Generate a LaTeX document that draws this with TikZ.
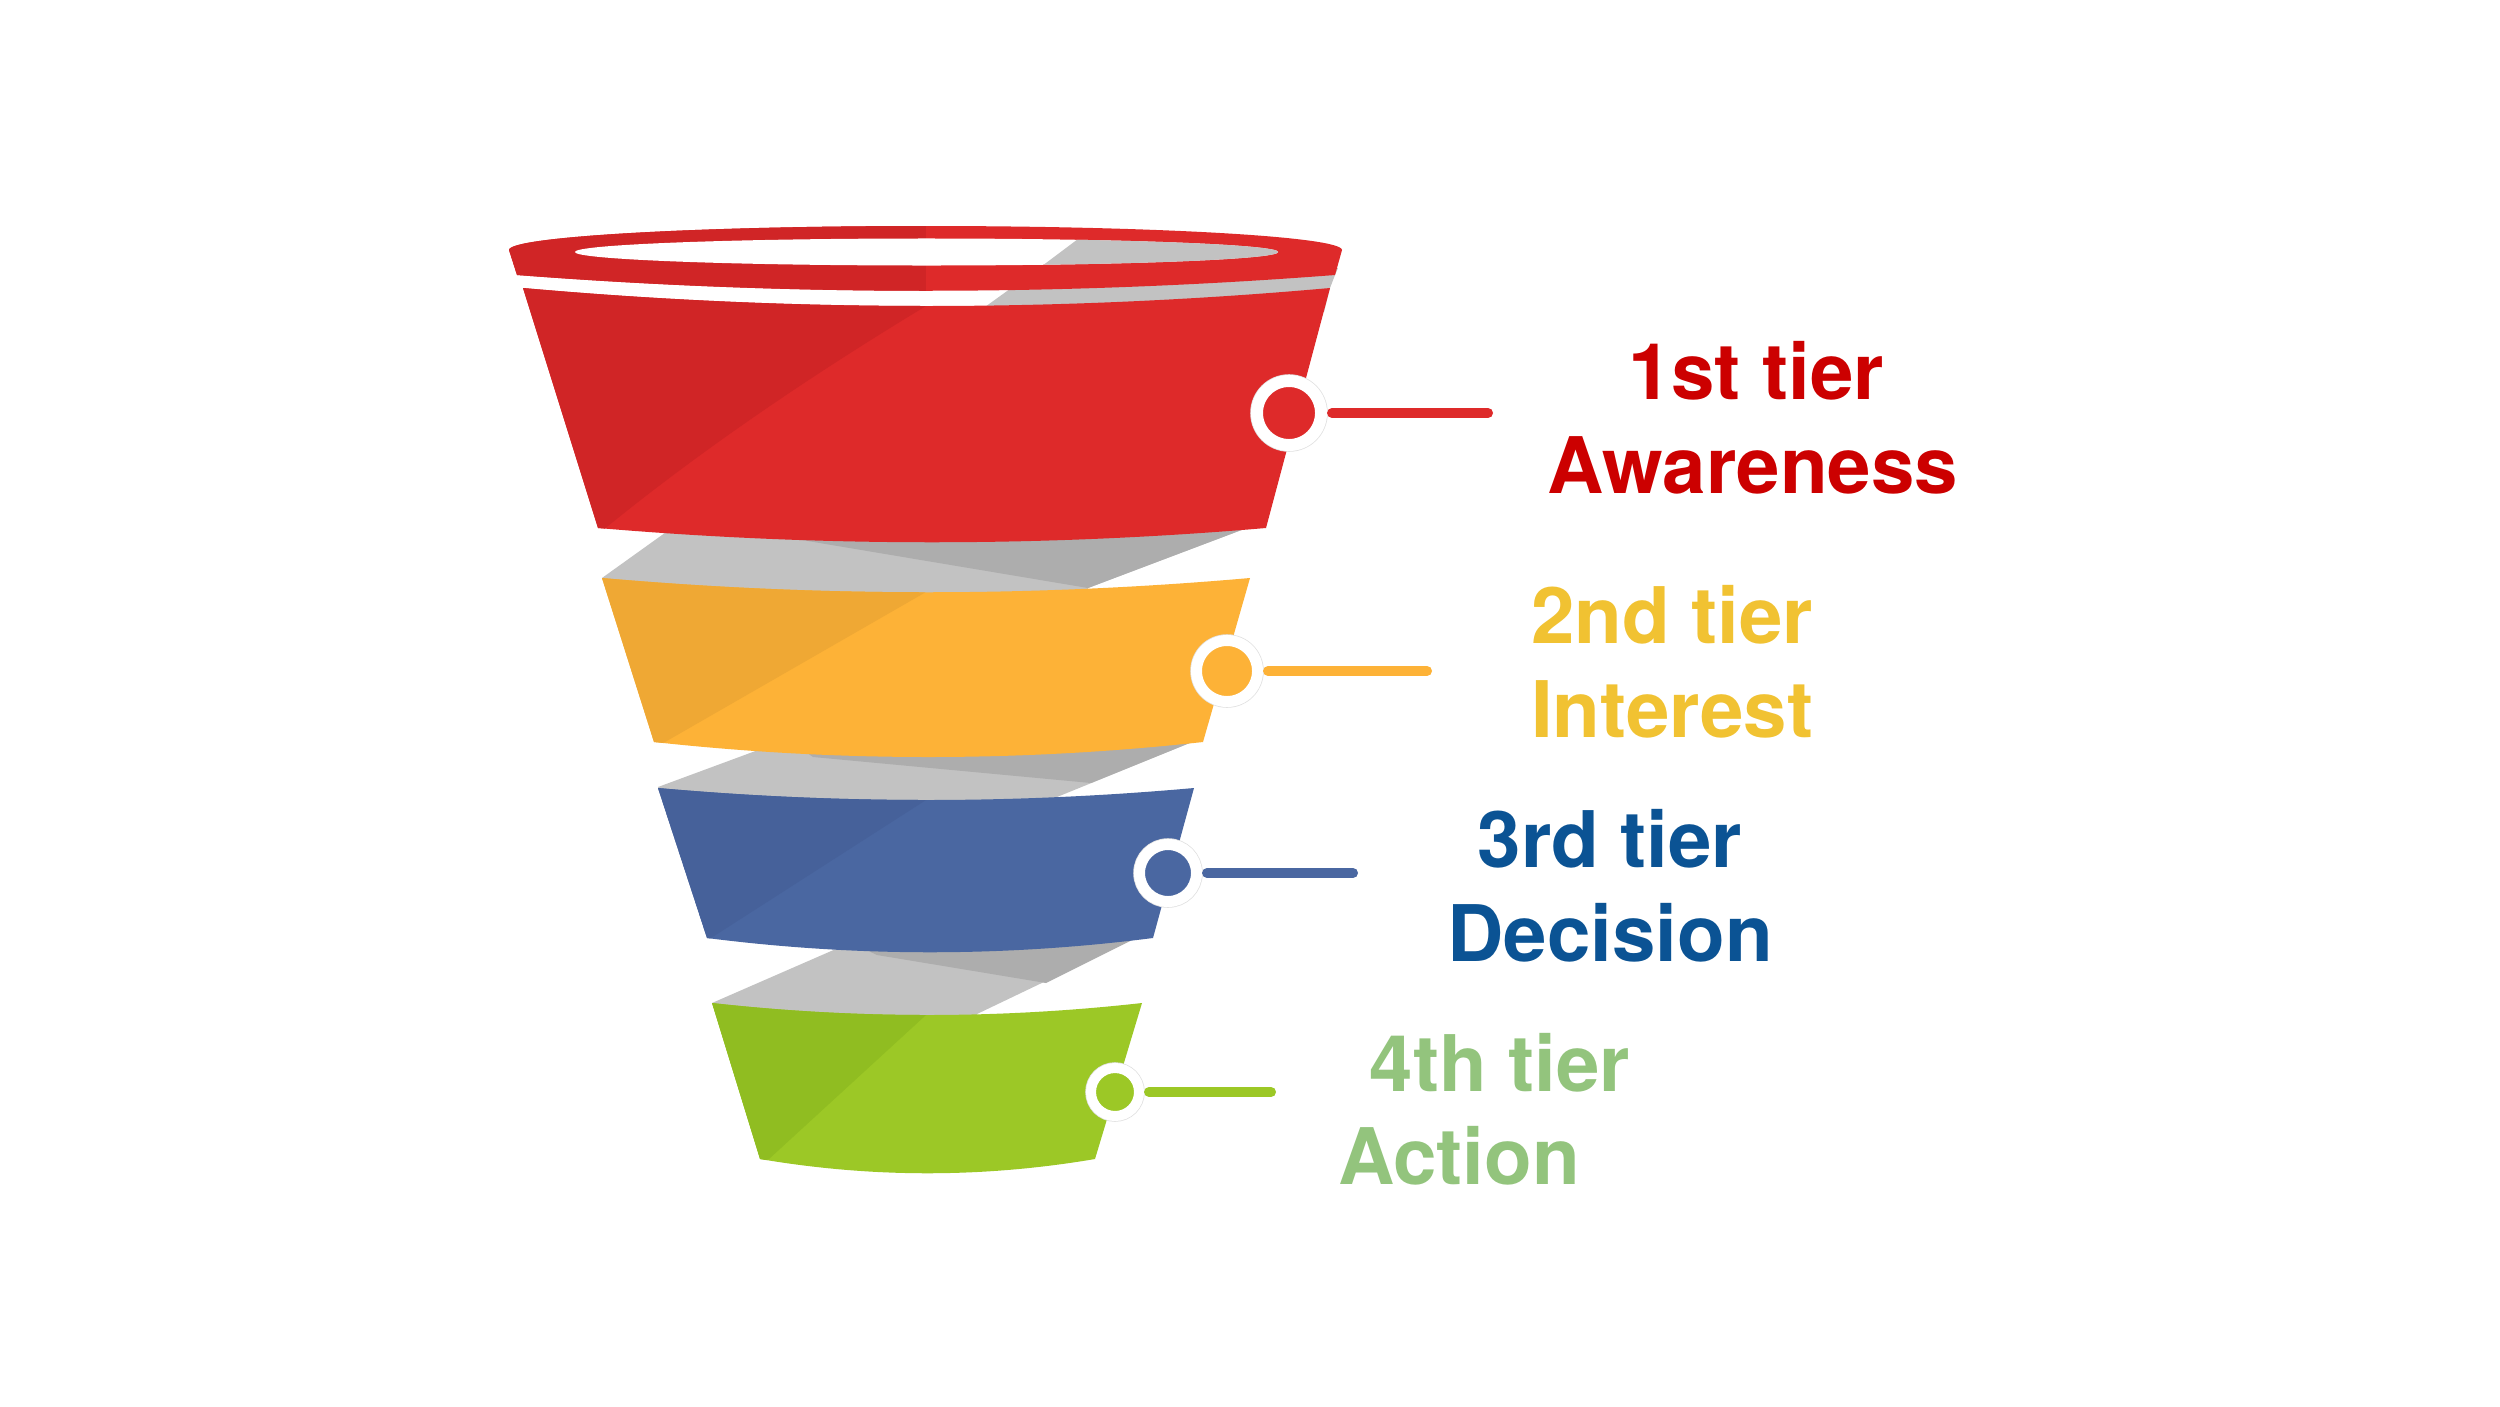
\documentclass[tikz,border=0pt]{standalone}
\usepackage{fontspec}
\setmainfont{TeX Gyre Heros}
\definecolor{redM}{HTML}{DE2A2A}
\definecolor{redD}{HTML}{D02526}
\definecolor{yelM}{HTML}{FDB237}
\definecolor{yelD}{HTML}{EFA834}
\definecolor{bluM}{HTML}{4A67A1}
\definecolor{bluD}{HTML}{46619A}
\definecolor{grnM}{HTML}{9CC826}
\definecolor{grnD}{HTML}{90BD21}
\definecolor{grayL}{HTML}{C2C2C2}
\definecolor{grayD}{HTML}{ADADAD}
\definecolor{txtR}{HTML}{CC0000}
\definecolor{txtY}{HTML}{F1C232}
\definecolor{txtB}{HTML}{0B5394}
\definecolor{txtG}{HTML}{93C47D}
\tikzset{
  lbl/.style={font=\fontsize{22.2}{26}\selectfont\bfseries, anchor=base, inner sep=0pt},
  tdot/.style={circle, inner sep=0pt, draw=white},
  conn/.style={line width=0.1cm, line cap=round}
}
\begin{document}
\begin{tikzpicture}[x=0.01cm, y=-0.01cm]
\fill[white] (0,0) rectangle (2500,1406);
\useasboundingbox (0,0) rectangle (2500,1406);

% grey inner ribbons
\fill[grayL] (676,525) -- (1260,523) -- (1088,588) -- (1085,600) -- (612,600) -- (602,578) -- cycle;
\fill[grayD] (742,530) -- (1260,523) -- (1088,588) -- cycle;
\fill[grayL] (769,746) -- (1197,740) -- (1057,797) -- (1054,810) -- (668,810) -- (658,787) -- cycle;
\fill[grayD] (800,748) -- (1197,740) -- (1091,783) -- (813,757) -- cycle;
\fill[grayL] (845,945) -- (1140,936) -- (977,1014) -- (974,1025) -- (721,1025) -- (712,1003) -- cycle;
\fill[grayD] (860,947) -- (1140,936) -- (1046,983) -- (877,955) -- cycle;
\fill[grayL] (1039,268) -- (1338,268) -- (1335,275) -- (1330,288) -- (1324,312) -- (978,312) -- cycle;

% red body
\fill[redM] (523,288) .. controls (792,312) and (1061,312) .. (1330,288) -- (1266,528) .. controls (1043,547) and (821,547) .. (598,528) -- cycle;
\begin{scope}
\clip (523,288) .. controls (792,312) and (1061,312) .. (1330,288) -- (1266,528) .. controls (1043,547) and (821,547) .. (598,528) -- cycle;
\fill[redD] (400,150) -- (926,150) -- (926,306) .. controls (802,381) and (695,455) .. (603,530) -- (400,600) -- cycle;
\end{scope}

% yellow body
\fill[yelM] (602,578) .. controls (818,597) and (1034,597) .. (1250,578) -- (1203,742) .. controls (1020,762) and (837,762) .. (654,742) -- cycle;
\begin{scope}
\clip (602,578) .. controls (818,597) and (1034,597) .. (1250,578) -- (1203,742) .. controls (1020,762) and (837,762) .. (654,742) -- cycle;
\fill[yelD] (500,500) -- (926,500) -- (926,592) -- (665,742) -- (500,800) -- cycle;
\end{scope}

% blue body
\fill[bluM] (658,788) .. controls (837,804) and (1015,804) .. (1194,788) -- (1153,938) .. controls (1004,957) and (856,957) .. (707,938) -- cycle;
\begin{scope}
\clip (658,788) .. controls (837,804) and (1015,804) .. (1194,788) -- (1153,938) .. controls (1004,957) and (856,957) .. (707,938) -- cycle;
\fill[bluD] (600,700) -- (926,700) -- (926,800) -- (711,938) -- (600,1000) -- cycle;
\end{scope}

% green body
\fill[grnM] (712,1003) .. controls (855,1019) and (999,1019) .. (1142,1003) -- (1095,1159) .. controls (983,1178) and (872,1178) .. (760,1159) -- cycle;
\begin{scope}
\clip (712,1003) .. controls (855,1019) and (999,1019) .. (1142,1003) -- (1095,1159) .. controls (983,1178) and (872,1178) .. (760,1159) -- cycle;
\fill[grnD] (650,950) -- (926,950) -- (926,1015) -- (769,1159) -- (650,1200) -- cycle;
\end{scope}

% rim
\fill[redM] (509,250) .. controls (509,236.7) and (695.7,226) .. (926,226) .. controls (1156,226) and (1342,236.7) .. (1342,250) -- (1335,275) .. controls (1062,296) and (790,296) .. (517,275) -- cycle;
\begin{scope}
\clip (509,250) .. controls (509,236.7) and (695.7,226) .. (926,226) .. controls (1156,226) and (1342,236.7) .. (1342,250) -- (1335,275) .. controls (1062,296) and (790,296) .. (517,275) -- cycle;
\fill[redD] (400,150) rectangle (926,320);
\end{scope}
\fill[white] (926.5,252) ellipse [x radius=3.515cm, y radius=0.135cm];
\begin{scope}
\clip (926.5,252) ellipse [x radius=3.515cm, y radius=0.135cm];
\fill[grayL] (1090,230) -- (1400,230) -- (1400,275) -- (1030,275) -- cycle;
\end{scope}

% markers and connectors
\node[tdot, fill=redM, minimum size=0.64cm, line width=0.12cm, preaction={draw=black!12, line width=0.135cm}] (dR) at (1289,413) {};
\node[tdot, fill=yelM, minimum size=0.61cm, line width=0.11cm, preaction={draw=black!12, line width=0.125cm}] (dY) at (1227,671) {};
\node[tdot, fill=bluM, minimum size=0.57cm, line width=0.11cm, preaction={draw=black!12, line width=0.125cm}] (dB) at (1168,873) {};
\node[tdot, fill=grnM, minimum size=0.48cm, line width=0.10cm, preaction={draw=black!12, line width=0.115cm}] (dG) at (1115,1092) {};
\coordinate (eR) at (1488,413);
\coordinate (eY) at (1427,671);
\coordinate (eB) at (1353,873);
\coordinate (eG) at (1271,1092);
\draw[conn, redM] ([xshift=0.05cm]dR.east) -- (eR);
\draw[conn, yelM] ([xshift=0.05cm]dY.east) -- (eY);
\draw[conn, bluM] ([xshift=0.05cm]dB.east) -- (eB);
\draw[conn, grnM] ([xshift=0.05cm]dG.east) -- (eG);

% labels
\node[lbl, txtR] (t1a) at (1756,399) {1st tier};
\node[lbl, txtR] (t1b) at (1753,493) {Awareness};
\node[lbl, txtY] (t2a) at (1672,643) {2nd tier};
\node[lbl, txtY] (t2b) at (1672,737) {Interest};
\node[lbl, txtB] (t3a) at (1610,867) {3rd tier};
\node[lbl, txtB] (t3b) at (1610,961) {Decision};
\node[lbl, txtG] (t4a) at (1500,1091) {4th tier};
\node[lbl, txtG] (t4b) at (1459,1184) {Action};
\end{tikzpicture}
\end{document}
